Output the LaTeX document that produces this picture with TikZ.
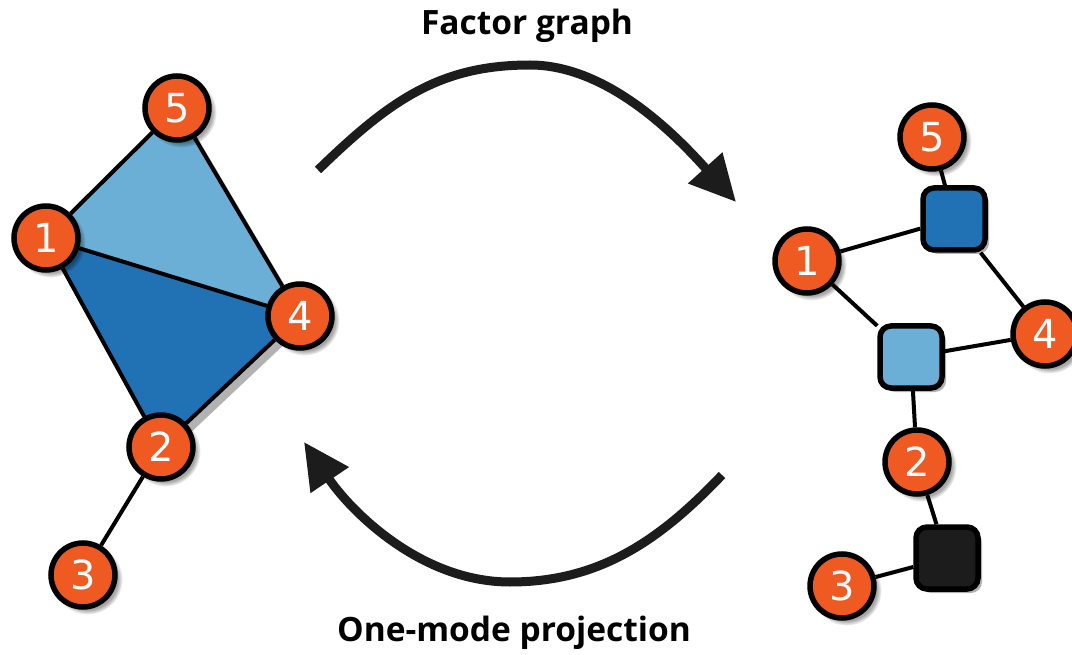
\documentclass[tikz,border=0pt]{standalone}
\usepackage{fontspec}
\setmainfont{Open Sans}
\newfontfamily\digitfont{DejaVu Sans}
\usetikzlibrary{arrows.meta,shadows}
\definecolor{nodeorange}{HTML}{EF5A23}
\definecolor{lightblue}{HTML}{6BAED6}
\definecolor{darkblue}{HTML}{2171B5}
\definecolor{nearblack}{HTML}{1C1C1C}
\pgfdeclarelayer{bg}
\pgfsetlayers{bg,main}
\tikzset{
  vertex/.style={circle, draw=black, line width=5.5pt, fill=nodeorange,
    minimum size=64pt, inner sep=0pt, text=white,
    font=\digitfont\fontsize{40}{40}\selectfont,
    circular drop shadow={shadow xshift=4pt, shadow yshift=-4pt, opacity=0.35, fill=black}},
  factor/.style={rectangle, rounded corners=11pt, draw=black, line width=5.5pt,
    minimum size=62pt, inner sep=0pt,
    drop shadow={shadow xshift=4pt, shadow yshift=-4pt, opacity=0.3, fill=black}},
  edge/.style={line width=4pt, black},
  bigarrow/.style={line width=9pt, color=nearblack,
    -{Triangle[length=46pt,width=44pt]}},
  caption/.style={font=\bfseries\fontsize{33.5}{33.5}\selectfont, text=black}
}
\begin{document}
\begin{tikzpicture}[x=1pt,y=-1pt]
\useasboundingbox (0,0) rectangle (1072,655);

% ---- clique (one-mode) graph ----
\node[vertex] (a5) at (177,108) {5};
\node[vertex] (a1) at (46,238) {1};
\node[vertex] (a4) at (300,316) {4};
\node[vertex] (a2) at (161,447) {2};
\node[vertex] (a3) at (83,575) {3};

\begin{pgfonlayer}{bg}
  % soft shadow under the filled hyperedges
  \fill[black, opacity=0.3] ([shift={(7,7)}]a1.center) -- ([shift={(7,7)}]a5.center)
     -- ([shift={(7,7)}]a4.center) -- ([shift={(7,7)}]a2.center) -- cycle;
  \fill[lightblue] (a1.center) -- (a5.center) -- (a4.center) -- cycle;
  \fill[darkblue] (a1.center) -- (a4.center) -- (a2.center) -- cycle;
  \draw[edge] (a1) -- (a5);
  \draw[edge] (a5) -- (a4);
  \draw[edge] (a1) -- (a4);
  \draw[edge] (a1) -- (a2);
  \draw[edge] (a2) -- (a4);
  \draw[edge] (a2) -- (a3);
\end{pgfonlayer}

% ---- factor graph ----
\node[vertex] (b5) at (932,137) {5};
\node[vertex] (b1) at (807,261) {1};
\node[vertex] (b4) at (1045,334) {4};
\node[vertex] (b2) at (917,462) {2};
\node[vertex] (b3) at (842,586) {3};
\node[factor, fill=darkblue] (f1) at (954,219) {};
\node[factor, fill=lightblue] (f2) at (911,357) {};
\node[factor, fill=nearblack] (f3) at (947,558) {};

\begin{pgfonlayer}{bg}
  \draw[edge] (b5) -- (f1);
  \draw[edge] (b1) -- (f1);
  \draw[edge] (f1) -- (b4);
  \draw[edge] (b1) -- (f2);
  \draw[edge] (f2) -- (b4);
  \draw[edge] (f2) -- (b2);
  \draw[edge] (b2) -- (f3);
  \draw[edge] (f3) -- (b3);
\end{pgfonlayer}

% ---- transformation arrows ----
\coordinate (top start) at (318,170);
\coordinate (top peak) at (530,65);
\coordinate (top end) at (736,202);
\coordinate (bot start) at (722,475);
\coordinate (bot dip) at (510,582);
\coordinate (bot end) at (304,442);

\draw[bigarrow] (top start) .. controls (390,100) and (440,65) .. (top peak)
  .. controls (610,65) and (680,140) .. (top end);
\draw[bigarrow] (bot start) .. controls (660,540) and (600,582) .. (bot dip)
  .. controls (420,582) and (350,510) .. (bot end);

\node[caption] (lab1) at (527,26) {Factor graph};
\node[caption] (lab2) at (514,633) {One-mode projection};
\end{tikzpicture}
\end{document}
